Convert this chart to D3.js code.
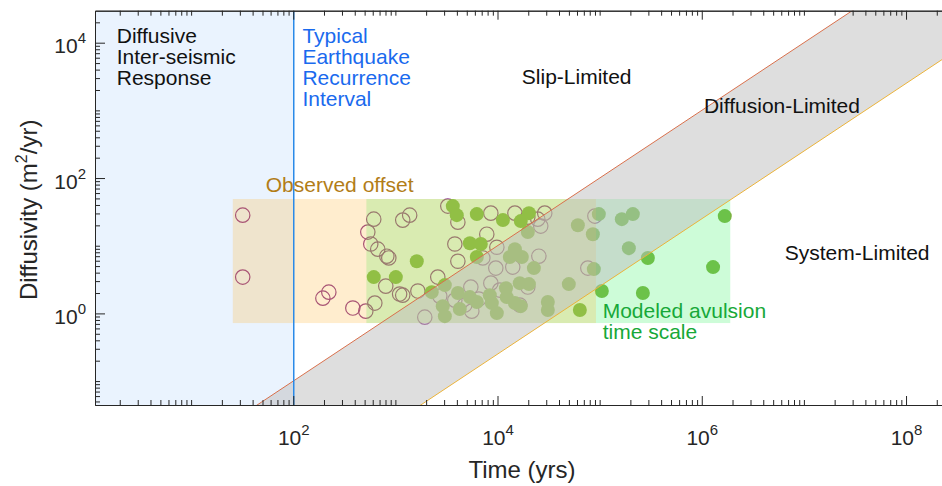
<!DOCTYPE html>
<html>
<head>
<meta charset="utf-8">
<script src="https://cdnjs.cloudflare.com/ajax/libs/d3/7.8.5/d3.min.js"></script>
<style>
body { margin: 0; background: #fff; }
text { font-family: "Liberation Sans", Arial, Helvetica, sans-serif; }
</style>
</head>
<body>
<svg id="chart" width="942" height="486"></svg>
<script>
// observed offsets (open circles): [time yrs, diffusivity m2/yr]
var observedPts = [
	[32, 28.3], [32, 3.44], [195, 1.68], [223, 2.06], [383, 1.2], [513, 1.08],
	[629, 1.42], [614, 24.7], [537, 15.9], [574, 10.6], [672, 8.9], [824, 7.0],
	[862, 6.6], [805, 2.53], [1100, 1.93], [1180, 23.9], [1380, 28.3], [1660, 2.14],
	[1940, 0.88], [3260, 38.5], [4090, 22.3], [3820, 10.6], [4090, 5.9], [2600, 3.44],
	[1180, 1.86], [2720, 1.8], [8600, 30.3], [14800, 30.3], [19800, 26.5], [24800, 24.7],
	[29000, 30.3], [26500, 19.5], [7850, 14.8], [9850, 9.5], [7180, 6.6], [9620, 4.67],
	[14100, 4.83], [25400, 7.0], [5480, 2.45], [8600, 2.8], [10500, 2.21], [19800, 2.45],
	[3820, 1.57], [4780, 1.33], [5600, 1.08], [6560, 1.63], [16500, 1.33], [76600, 4.67],
	[89800, 27.4]
];

// modeled avulsion (filled circles): [time yrs, diffusivity m2/yr]
var modeledPts = [
	[614, 3.44], [1010, 3.44], [1620, 5.9], [3650, 38.5], [3990, 28.3], [6270, 29.3],
	[11300, 23.9], [16900, 23.1], [20300, 30.3], [5360, 10.9], [6860, 10.6], [6270, 6.8],
	[19800, 15.9], [14800, 8.9], [13200, 6.8], [17300, 6.8], [22700, 4.67], [61200, 20.1],
	[85800, 14.8], [98200, 29.3], [87700, 4.51], [49900, 2.71], [16500, 2.8], [20300, 2.71],
	[12100, 2.36], [2270, 2.06], [3050, 2.62], [4090, 2.0], [2910, 1.28], [3050, 0.91],
	[4270, 1.16], [5360, 1.74], [6270, 1.47], [8400, 1.86], [8800, 1.42], [9850, 1.01],
	[12300, 1.74], [14800, 1.42], [16900, 1.28], [31100, 1.47], [31100, 1.12], [64000, 1.12],
	[164900, 24.7], [211400, 29.3], [193200, 9.2], [296500, 6.6], [105100, 2.14], [265000, 2.0],
	[1.68e6, 27.4], [1.29e6, 4.83]
];

var offsetSpan = [25.6, 9.2e4];     // observed offset time range
var avulsionSpan = [520, 1.9e6];    // modeled avulsion time range
var boxDiff = [0.72, 49];           // diffusivity range of both boxes
var recurrence = 100;               // typical earthquake recurrence (yrs)
var slipCoef = 1e-3;                // upper boundary D = c * t
var systemCoef = 2.5e-5;            // lower boundary D = c * t
var xLabelExp = [2, 4, 6, 8];
var yLabelExp = [0, 2, 4];

var svg = d3.select('#chart');
var pLeft = 95, pRight = 942, pTop = 10.7, pBottom = 405;

var x = d3.scaleLog().domain([1.145, 2.25e8]).range([pLeft, pRight]);
var y = d3.scaleLog().domain([0.0443, 29700]).range([pBottom, pTop]);

function logTicks(scale, k0, k1, majors) {
	var out = [];
	var d = scale.domain();
	for (var k = k0; k <= k1; k++) {
		for (var m = 1; m <= 9; m++) {
			var v = m * Math.pow(10, k);
			if (m === 1 && majors.indexOf(k) >= 0) continue;
			if (v >= d[0] && v <= d[1]) out.push(v);
		}
	}
	return out;
}
var xMinor = logTicks(x, 0, 8, xLabelExp);
var yMinor = logTicks(y, -2, 4, yLabelExp);
var xMajor = xLabelExp.map(function(e){ return Math.pow(10, e); });
var yMajor = yLabelExp.map(function(e){ return Math.pow(10, e); });

svg.append('clipPath').attr('id', 'plotclip')
	.append('rect').attr('x', pLeft).attr('y', pTop)
	.attr('width', pRight - pLeft).attr('height', pBottom - pTop);

var plot = svg.append('g').attr('clip-path', 'url(#plotclip)');

// inter-seismic region
plot.append('rect')
	.attr('x', x(x.domain()[0])).attr('y', pTop)
	.attr('width', x(recurrence) - x(x.domain()[0]))
	.attr('height', pBottom - pTop)
	.attr('fill', '#EAF3FE');

// points
plot.selectAll('.obs').data(observedPts).enter().append('circle')
	.attr('class', 'obs')
	.attr('cx', function(d){ return x(d[0]); })
	.attr('cy', function(d){ return y(d[1]); })
	.attr('r', 7.2)
	.attr('fill', 'none')
	.attr('stroke', '#8C3488')
	.attr('stroke-width', 1.2);

plot.selectAll('.mod').data(modeledPts).enter().append('circle')
	.attr('class', 'mod')
	.attr('cx', function(d){ return x(d[0]); })
	.attr('cy', function(d){ return y(d[1]); })
	.attr('r', 7)
	.attr('fill', '#7DB13F');

// boxes
plot.append('rect')
	.attr('x', x(avulsionSpan[0])).attr('y', y(boxDiff[1]))
	.attr('width', x(avulsionSpan[1]) - x(avulsionSpan[0]))
	.attr('height', y(boxDiff[0]) - y(boxDiff[1]))
	.attr('fill', 'rgb(60,243,105)').attr('fill-opacity', 0.26);

plot.append('rect')
	.attr('x', x(offsetSpan[0])).attr('y', y(boxDiff[1]))
	.attr('width', x(offsetSpan[1]) - x(offsetSpan[0]))
	.attr('height', y(boxDiff[0]) - y(boxDiff[1]))
	.attr('fill', 'rgb(255,185,60)').attr('fill-opacity', 0.25);

// diffusion-limited band
var xd = x.domain();
var band = [
	[xd[0], slipCoef * xd[0]], [xd[1], slipCoef * xd[1]],
	[xd[1], systemCoef * xd[1]], [xd[0], systemCoef * xd[0]]
];
var line = d3.line()
	.x(function(d){ return x(d[0]); })
	.y(function(d){ return y(d[1]); });

plot.append('path')
	.attr('d', line(band) + 'Z')
	.attr('fill', 'rgb(190,190,190)').attr('fill-opacity', 0.5);

plot.append('path')
	.attr('d', line([band[0], band[1]]))
	.attr('fill', 'none').attr('stroke', '#D9704C').attr('stroke-width', 1);
plot.append('path')
	.attr('d', line([band[3], band[2]]))
	.attr('fill', 'none').attr('stroke', '#EBB33A').attr('stroke-width', 1);

// recurrence line
plot.append('line')
	.attr('x1', x(recurrence) + 0.5).attr('x2', x(recurrence) + 0.5)
	.attr('y1', pTop).attr('y2', pBottom)
	.attr('stroke', '#2A8AE8').attr('stroke-width', 1.5);

// axes
function styleAxis(g) {
	g.selectAll('path').attr('stroke', '#262626').attr('stroke-width', 1);
	g.selectAll('line').attr('stroke', '#262626').attr('stroke-width', 1);
}

function addAxis(gen, tr, vals, size) {
	var g = svg.append('g').attr('transform', tr)
		.call(gen.tickValues(vals).tickSize(size).tickSizeOuter(0).tickFormat(''));
	styleAxis(g);
	return g;
}

addAxis(d3.axisBottom(x), 'translate(0,' + pBottom + ')', xMinor, -5);
var xg = addAxis(d3.axisBottom(x), 'translate(0,' + pBottom + ')', xMajor, -9);
addAxis(d3.axisTop(x), 'translate(0,' + pTop + ')', xMinor, -5);
addAxis(d3.axisTop(x), 'translate(0,' + pTop + ')', xMajor, -9);
addAxis(d3.axisLeft(y), 'translate(' + pLeft + ',0)', yMinor, -5);
var yg = addAxis(d3.axisLeft(y), 'translate(' + pLeft + ',0)', yMajor, -10);

function powLabel(t, e) {
	t.text(null).attr('font-size', 21).style('font-size', '21px');
	t.append('tspan').text('10');
	t.append('tspan').text(e).style('font-size', '15px').attr('dy', -10);
}

xg.selectAll('.tick text').each(function(d) {
	var t = d3.select(this).attr('y', 40).attr('dy', null)
		.attr('fill', '#262626').attr('text-anchor', 'middle');
	powLabel(t, Math.round(Math.log10(d)));
});
yg.selectAll('.tick text').each(function(d) {
	var t = d3.select(this).attr('x', -9).attr('y', 10).attr('dy', null)
		.attr('fill', '#262626').attr('text-anchor', 'end');
	powLabel(t, Math.round(Math.log10(d)));
});

// axis titles
svg.append('text')
	.attr('x', 522).attr('y', 478)
	.attr('text-anchor', 'middle').attr('font-size', 24).attr('fill', '#262626')
	.text('Time (yrs)');

var yt = svg.append('text')
	.attr('transform', 'translate(37,' + ((pTop + pBottom) / 2 + 2) + ') rotate(-90)')
	.attr('text-anchor', 'middle').attr('font-size', 24).attr('fill', '#262626');
yt.append('tspan').text('Diffusivity (m');
yt.append('tspan').text('2').style('font-size', '16px').attr('dy', -10);
yt.append('tspan').text('/yr)').attr('dy', 10);

// annotations
function note(tx, dy, lines, color) {
	var t = svg.append('text')
		.attr('x', x(tx)).attr('y', y(dy))
		.attr('font-size', 21).attr('fill', color);
	lines.forEach(function(s, i) {
		t.append('tspan').attr('x', x(tx)).attr('dy', i === 0 ? 0 : 21).text(s);
	});
}

note(1.87, 9800, ['Diffusive', 'Inter-seismic', 'Response'], '#111');
note(recurrence * 1.23, 9800, ['Typical', 'Earthquake', 'Recurrence', 'Interval'], '#1A6AEE');
note(17300, 2440, ['Slip-Limited'], '#111');
note(1.05e6, 910, ['Diffusion-Limited'], '#111');
note(6.5e6, 6.1, ['System-Limited'], '#111');
note(53.8, 62, ['Observed offset'], '#B27D18');
note(1.07e5, 0.853, ['Modeled avulsion', 'time scale'], '#17A838');
</script>
</body>
</html>
